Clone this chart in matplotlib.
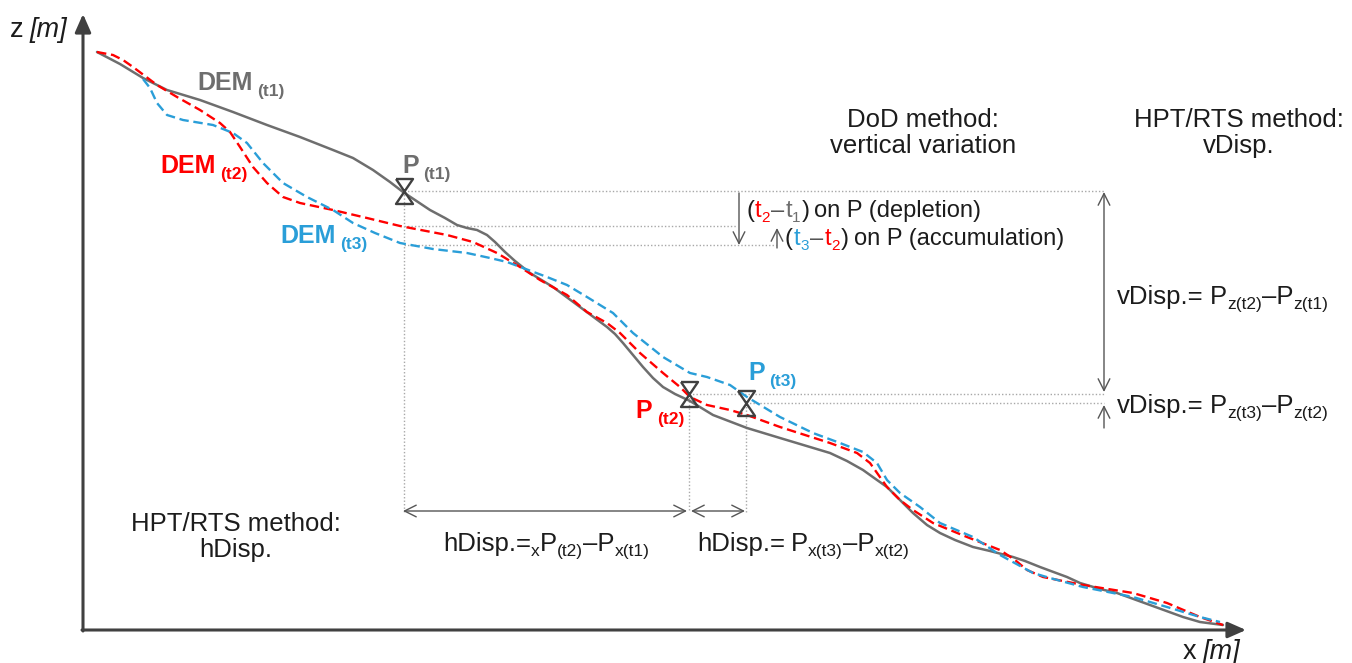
import numpy as np
import matplotlib
matplotlib.use("Agg")
import matplotlib.pyplot as plt
from matplotlib.path import Path

plt.rcParams['font.family'] = ['Liberation Sans', 'DejaVu Sans']

# profile lines (pixel space, y grows downwards)
dem1_x = [97, 120, 143, 167, 200, 233, 267, 300, 333, 353, 373, 390, 403, 415, 430, 445, 457, 467, 477, 487,
          495, 505, 515, 530, 553, 580, 607, 615, 623, 633, 643, 653, 663, 675, 690, 713, 747, 780, 810, 830,
          847, 863, 877, 887, 900, 913, 927, 940, 955, 973, 990, 1013, 1025, 1040, 1067, 1080, 1100, 1117,
          1150, 1183, 1200, 1223]
dem1_y = [52, 64, 78, 90, 100, 112, 125, 137, 150, 158, 170, 182, 192, 200, 210, 218, 225, 228, 230, 235,
          242, 252, 261, 273, 287, 307, 327, 334, 343, 355, 367, 378, 387, 394, 401, 415, 428, 438, 447, 453,
          461, 470, 480, 487, 500, 513, 525, 533, 540, 547, 551, 557, 561, 567, 577, 583, 589, 593,
          605, 617, 622, 625]

dem2_x = [97, 113, 123, 133, 145, 157, 177, 200, 220, 230, 240, 253, 267, 283, 300, 333, 367, 400, 447, 473,
          497, 520, 540, 567, 587, 607, 620, 640, 663, 680, 690, 707, 730, 747, 780, 830, 857, 870, 887, 900,
          913, 933, 967, 1000, 1015, 1027, 1043, 1083, 1133, 1167, 1200, 1223]
dem2_y = [52, 55, 60, 67, 76, 85, 97, 110, 123, 132, 147, 167, 183, 197, 203, 210, 218, 226, 235, 242,
          253, 267, 280, 295, 312, 323, 333, 353, 373, 387, 397, 405, 410, 415, 427, 443, 453, 463, 487, 500,
          510, 523, 537, 550, 560, 570, 577, 585, 593, 603, 617, 625]

dem3_x = [143, 150, 157, 167, 183, 213, 233, 247, 263, 283, 307, 333, 353, 375, 400, 433, 467, 490, 507, 523,
          547, 567, 587, 613, 633, 663, 690, 707, 730, 747, 780, 813, 840, 863, 877, 887, 900, 920, 940, 973,
          1000, 1033, 1050, 1083, 1133, 1167, 1200, 1220]
dem3_y = [79, 88, 103, 115, 120, 125, 133, 143, 163, 183, 197, 210, 223, 233, 243, 249, 253, 258, 262, 268,
          277, 285, 297, 313, 333, 357, 373, 377, 385, 397, 417, 433, 443, 452, 463, 480, 493, 507, 523, 537,
          555, 573, 578, 587, 597, 607, 617, 622]

# point P at t1, t2, t3
p_x = [404, 689, 746]
p_y = [191, 394, 403]

GRAY = '#6e6e6e'
RED = '#ff0000'
BLUE = '#2a9ed8'
INK = '#1c1c1c'
DARK = '#404040'
FS = 18.5   # main annotation size
SUB = 12.5

fig = plt.figure(figsize=(13.52, 6.63), dpi=100)
ax = fig.add_axes([0, 0, 1, 1])
ax.set_xlim(0, 1352)
ax.set_ylim(663, 0)
ax.axis('off')

# axes with arrow heads
arr_ax = dict(arrowstyle='-|>,head_length=0.5,head_width=0.22', lw=2.2, color=DARK,
              mutation_scale=22, shrinkA=0, shrinkB=0)
ax.annotate('', xy=(83, 14), xytext=(83, 631), arrowprops=arr_ax)
ax.annotate('', xy=(1246, 630), xytext=(82, 630), arrowprops=arr_ax)

# dotted guides
dot = dict(color='#a8a8a8', lw=1.0, linestyle=(0, (1, 1.5)))
ax.plot([p_x[0], 1104], [p_y[0]] * 2, **dot)
ax.plot([p_x[0], 737], [226, 226], **dot)
ax.plot([p_x[0], 776], [245, 245], **dot)
ax.plot([p_x[1], 1104], [p_y[1]] * 2, **dot)
ax.plot([p_x[2], 1104], [p_y[2]] * 2, **dot)
for px, py in zip(p_x, p_y):
    ax.plot([px, px], [py, 512], **dot)

# profiles
ax.plot(dem1_x, dem1_y, color=GRAY, lw=1.8, solid_capstyle='round', zorder=3)
ax.plot(dem2_x, dem2_y, color=RED, lw=1.7, linestyle=(0, (4, 2)), zorder=4)
ax.plot(dem3_x, dem3_y, color=BLUE, lw=1.7, linestyle=(0, (4, 2)), zorder=4)

# hourglass markers
hg = Path([(-0.68, 1), (0.68, 1), (-0.68, -1), (0.68, -1), (-0.68, 1)])
ax.plot(p_x, p_y, linestyle='', marker=hg, markersize=18, markerfacecolor='none',
        markeredgecolor=DARK, markeredgewidth=1.7, zorder=6)

# dimension arrows
thin2 = dict(arrowstyle='<->,head_length=0.6,head_width=0.3', lw=1.0, color='#555555',
             mutation_scale=14, shrinkA=0, shrinkB=0)
thin1 = dict(arrowstyle='->,head_length=0.6,head_width=0.3', lw=1.0, color='#555555',
             mutation_scale=14, shrinkA=0, shrinkB=0)
ax.annotate('', xy=(403, 511), xytext=(687, 511), arrowprops=thin2)
ax.annotate('', xy=(691, 511), xytext=(745, 511), arrowprops=thin2)
ax.annotate('', xy=(1104, 192), xytext=(1104, 392), arrowprops=thin2)
ax.annotate('', xy=(1104, 405), xytext=(1104, 428), arrowprops=thin1)
ax.annotate('', xy=(739, 245), xytext=(739, 193), arrowprops=thin1)
ax.annotate('', xy=(777, 228), xytext=(777, 248), arrowprops=thin1)

renderer = fig.canvas.get_renderer()
inv = ax.transData.inverted()


def rich(x, y, pieces):
    # pieces: (text, color, size, dy, weight, style, gap_before)
    cur = x
    for s, c, fs, dy, w, st, gap in pieces:
        cur += gap
        t = ax.text(cur, y + dy, s, color=c, fontsize=fs, weight=w, style=st,
                    va='baseline', ha='left', zorder=7)
        bb = t.get_window_extent(renderer)
        cur = inv.transform((bb.x1, bb.y0))[0]


def label(x, y, main, sub, c):
    rich(x, y, [(main, c, 18, 0, 'bold', 'normal', 0),
                (sub, c, 12.5, 6, 'bold', 'normal', 5)])


N = 'normal'
rich(10, 37, [('z', INK, 19.5, 0, N, N, 0), ('[m]', INK, 19.5, 0, N, 'italic', 6)])
rich(1183, 659, [('x', INK, 19.5, 0, N, N, 0), ('[m]', INK, 19.5, 0, N, 'italic', 6)])

label(197, 90, 'DEM', '(t1)', GRAY)
label(160, 173, 'DEM', '(t2)', RED)
label(280, 243, 'DEM', '(t3)', BLUE)
label(402, 173, 'P', '(t1)', GRAY)
label(635, 418, 'P', '(t2)', RED)
label(748, 380, 'P', '(t3)', BLUE)

rich(746, 217, [('(', INK, 17, 0, N, N, 0), ('t', RED, 17, 0, N, N, 1), ('2', RED, 11, 5, N, N, 0),
                ('–', '#555555', 17, 0, N, N, 1), ('t', GRAY, 17, 0, N, N, 1), ('1', GRAY, 11, 5, N, N, 0),
                (')', INK, 17, 0, N, N, 1), ('on P (depletion)', INK, 17, 0, N, N, 5)])
rich(785, 245, [('(', INK, 17, 0, N, N, 0), ('t', BLUE, 17, 0, N, N, 1), ('3', BLUE, 11, 5, N, N, 0),
                ('–', '#555555', 17, 0, N, N, 1), ('t', RED, 17, 0, N, N, 1), ('2', RED, 11, 5, N, N, 0),
                (')', INK, 17, 0, N, N, 1), ('on P (accumulation)', INK, 17, 0, N, N, 5)])

rich(1117, 304, [('vDisp.=', INK, FS, 0, N, N, 0), ('P', INK, FS, 0, N, N, 6),
                 ('z(t2)', INK, SUB, 5, N, N, 0), ('–P', INK, FS, 0, N, N, 0),
                 ('z(t1)', INK, SUB, 5, N, N, 0)])
rich(1117, 413, [('vDisp.=', INK, FS, 0, N, N, 0), ('P', INK, FS, 0, N, N, 6),
                 ('z(t3)', INK, SUB, 5, N, N, 0), ('–P', INK, FS, 0, N, N, 0),
                 ('z(t2)', INK, SUB, 5, N, N, 0)])
rich(443, 551, [('hDisp.=', INK, FS, 0, N, N, 0), ('x', INK, SUB, 5, N, N, 0),
                ('P', INK, FS, 0, N, N, 0), ('(t2)', INK, SUB, 5, N, N, 0),
                ('–P', INK, FS, 0, N, N, 0), ('x(t1)', INK, SUB, 5, N, N, 0)])
rich(697, 551, [('hDisp.=', INK, FS, 0, N, N, 0), ('P', INK, FS, 0, N, N, 6),
                ('x(t3)', INK, SUB, 5, N, N, 0), ('–P', INK, FS, 0, N, N, 0),
                ('x(t2)', INK, SUB, 5, N, N, 0)])

ax.text(923, 133, 'DoD method:\nvertical variation', fontsize=FS, color=INK,
        ha='center', va='center', linespacing=1.12, multialignment='center')
ax.text(1239, 133, 'HPT/RTS method:\nvDisp.', fontsize=FS, color=INK,
        ha='center', va='center', linespacing=1.12, multialignment='center')
ax.text(236, 537, 'HPT/RTS method:\nhDisp.', fontsize=FS, color=INK,
        ha='center', va='center', linespacing=1.12, multialignment='center')

fig.savefig('out.png', dpi=100)
